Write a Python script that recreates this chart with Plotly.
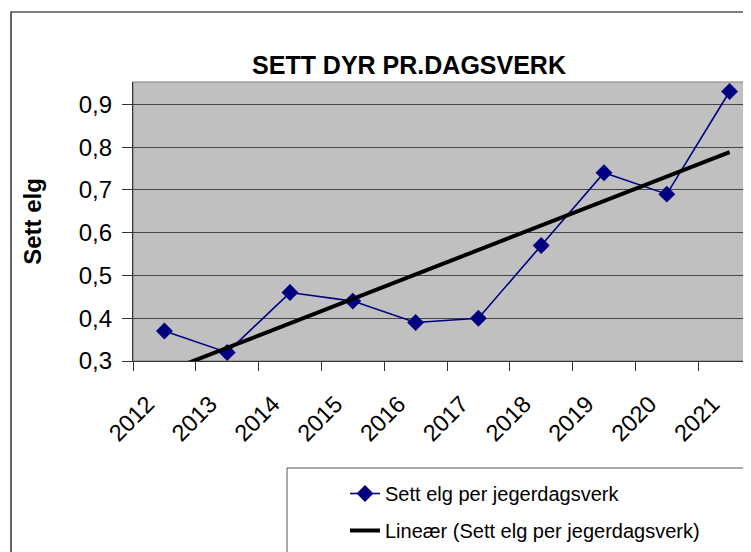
import numpy as np
import plotly.graph_objects as go

years = ["2012", "2013", "2014", "2015", "2016", "2017", "2018", "2019", "2020", "2021"]
sett_elg = [0.37, 0.32, 0.46, 0.44, 0.39, 0.40, 0.57, 0.74, 0.69, 0.93]
y_ticks = [0.3, 0.4, 0.5, 0.6, 0.7, 0.8, 0.9]

# linear trend (as Excel "Lineær" trendline)
xi = np.arange(1, len(sett_elg) + 1)
slope, intercept = np.polyfit(xi, sett_elg, 1)
trend = list(slope * xi + intercept)

OFF = 8  # page body margin
W, H = 751, 552
L, T, R, B = 133, 82, 759, 361  # plot area in page px


def px(x):
    return (x - L) / (R - L)


def py(y):
    return (B - y) / (B - T)


FONT = "Arial, Liberation Sans, sans-serif"

fig = go.Figure()
fig.add_trace(go.Scatter(
    x=years, y=sett_elg, mode="lines+markers",
    name="Sett elg per jegerdagsverk", legendgroup="a",
    line=dict(color="#000080", width=1.6),
    marker=dict(symbol="diamond", size=13, color="#000080"),
))
fig.add_trace(go.Scatter(
    x=years, y=trend, mode="lines",
    name="Lineær (Sett elg per jegerdagsverk)", legendgroup="b",
    line=dict(color="#000000", width=4),
))

shapes = [
    # chart area border
    dict(type="rect", xref="paper", yref="paper", x0=px(11), x1=px(800), y0=py(12), y1=py(600),
         line=dict(color="#000000", width=1.2), fillcolor="rgba(0,0,0,0)", layer="below"),
    # legend box
    dict(type="rect", xref="paper", yref="paper", x0=px(287), x1=px(800), y0=py(468), y1=py(600),
         line=dict(color="#555555", width=1), fillcolor="rgba(0,0,0,0)"),
    # plot-area border
    dict(type="rect", xref="paper", yref="paper", x0=0, x1=px(800), y0=0, y1=1,
         line=dict(color="#808080", width=1.2), fillcolor="rgba(0,0,0,0)", layer="below"),
]

fig.update_layout(
    width=W, height=H,
    margin=dict(l=L - OFF, r=W + OFF - R, t=T - OFF, b=H + OFF - B, pad=0),
    paper_bgcolor="white", plot_bgcolor="#C0C0C0",
    font=dict(family=FONT, color="black"),
    separators=", ",
    title=dict(text="<b>SETT DYR PR.DAGSVERK</b>", font=dict(size=25, family=FONT, color="black"),
               x=(409 - OFF) / W, xanchor="center", xref="container",
               y=1 - (65 - OFF) / H, yanchor="middle", yref="container"),
    xaxis=dict(type="category", range=[-0.5, -0.5 + (R - L) / 62.8],
               tickson="boundaries", ticks="outside", ticklen=9, tickwidth=1, tickcolor="#333333",
               showgrid=False, showline=True, linecolor="#333333", linewidth=1.2,
               tickangle=-45, tickfont=dict(size=23.5, family=FONT, color="black"),
               ticklabelstandoff=19, ticklabelshift=-17,
               zeroline=False),
    yaxis=dict(range=[0.3, 0.3 + (B - T) / 427.8], tickvals=y_ticks, tickformat=".1f",
               ticks="outside", ticklen=10, tickwidth=1, tickcolor="#333333",
               showgrid=True, gridcolor="#444444", gridwidth=1.2,
               showline=True, linecolor="#333333", linewidth=1.2, zeroline=False,
               tickfont=dict(size=24, family=FONT, color="black"),
               ticklabelstandoff=5,
               title=dict(text="<b>Sett elg</b>", font=dict(size=24, family=FONT, color="black"),
                          standoff=30)),
    legend=dict(x=px(345), xanchor="left", y=py(474), yanchor="top",
                bgcolor="rgba(0,0,0,0)", borderwidth=0,
                font=dict(size=20, family=FONT, color="black"),
                tracegroupgap=8, itemwidth=30),
    shapes=shapes,
    showlegend=True,
)

fig.write_html("out.html")
